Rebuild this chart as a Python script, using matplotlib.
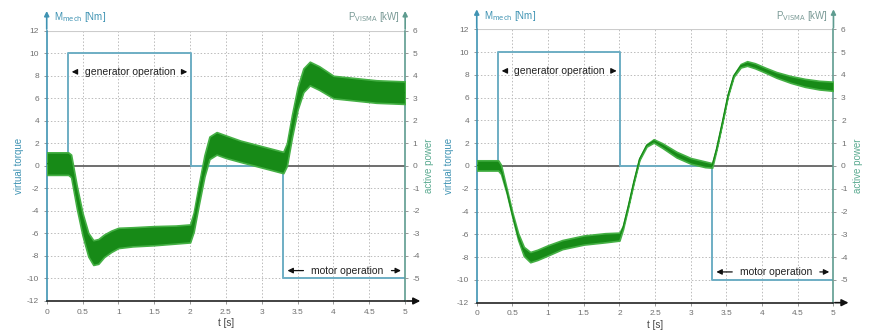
import numpy as np
import matplotlib
matplotlib.use('Agg')
import matplotlib.pyplot as plt

plt.rcParams['font.family'] = ['Liberation Sans', 'DejaVu Sans']
plt.rcParams['axes.unicode_minus'] = False

# square wave of the virtual torque setpoint (both tests)
sq_t = [0, 0.30, 0.30, 2.01, 2.01, 3.30, 3.30, 5.0]
sq_m = [0, 0, 10, 10, 0, 0, -10, -10]

# left test: measured torque band (centre and half width, Nm)
t_left = [0, 0.30, 0.34, 0.42, 0.50, 0.58, 0.65, 0.72, 0.80, 0.90, 1.00, 1.20, 1.50,
          1.80, 2.00, 2.05, 2.12, 2.20, 2.27, 2.37, 2.50, 2.70, 3.00, 3.30, 3.35, 3.42,
          3.50, 3.58, 3.67, 3.80, 4.00, 4.30, 4.60, 5.00]
m_left = [0.2, 0.2, 0.0, -2.8, -5.2, -7.0, -7.7, -7.6, -7.1, -6.7, -6.4, -6.3, -6.2,
          -6.1, -6.0, -5.0, -2.6, 0.0, 1.6, 2.0, 1.7, 1.3, 0.8, 0.3, 1.0, 3.5,
          6.0, 7.6, 8.2, 7.8, 7.0, 6.8, 6.6, 6.5]
hw_left = [1.0, 1.0, 1.0, 1.0, 1.0, 1.05, 1.1, 1.1, 1.0, 0.95, 0.9, 0.85, 0.85,
           0.8, 0.8, 0.85, 0.9, 0.95, 1.0, 1.0, 1.0, 0.95, 0.95, 0.95, 1.0, 1.0,
           1.0, 1.05, 1.05, 1.05, 1.0, 1.0, 1.0, 1.0]

# right test: measured torque band
t_right = [0, 0.30, 0.34, 0.42, 0.50, 0.58, 0.66, 0.75, 0.85, 1.00, 1.20, 1.50, 1.80,
           2.00, 2.05, 2.12, 2.20, 2.28, 2.38, 2.48, 2.60, 2.80, 3.00, 3.20, 3.30, 3.36,
           3.44, 3.52, 3.60, 3.70, 3.79, 3.90, 4.05, 4.20, 4.40, 4.60, 4.80, 5.00]
m_right = [0.05, 0.05, -0.3, -2.2, -4.3, -6.2, -7.5, -8.0, -7.8, -7.4, -6.9, -6.5, -6.3,
           -6.2, -5.4, -3.6, -1.4, 0.6, 1.8, 2.2, 1.8, 1.0, 0.45, 0.15, 0.05, 1.5,
           3.8, 6.2, 7.9, 8.8, 9.0, 8.8, 8.4, 8.0, 7.6, 7.3, 7.1, 7.0]
hw_right = [0.45, 0.45, 0.4, 0.2, 0.2, 0.3, 0.4, 0.45, 0.45, 0.45, 0.4, 0.4, 0.4,
            0.35, 0.15, 0.08, 0.08, 0.08, 0.1, 0.15, 0.2, 0.25, 0.25, 0.25, 0.2, 0.08,
            0.06, 0.06, 0.08, 0.15, 0.2, 0.22, 0.22, 0.25, 0.3, 0.35, 0.38, 0.4]

x_ticks = [0, 0.5, 1, 1.5, 2, 2.5, 3, 3.5, 4, 4.5, 5]
x_labels = ['0', '0.5', '1', '1.5', '2', '2.5', '3', '3.5', '4', '4.5', '5']
m_ticks = list(range(-12, 13, 2))
p_ticks = list(range(-5, 7))

GREEN = '#178a17'
SQ = '#6eaec4'
LCOL = '#3f93b3'
RCOL = '#5f9c90'
TXT = '#707070'


def panel(rect, t, m, hw):
    ax = fig.add_axes(rect)
    ax.set_xlim(0, 5)
    ax.set_ylim(-12, 12)
    ax.spines['top'].set_visible(False)
    ax.spines['left'].set_color(LCOL)
    ax.spines['left'].set_linewidth(1.2)
    ax.spines['right'].set_color(RCOL)
    ax.spines['right'].set_linewidth(1.2)
    ax.spines['bottom'].set_color('#222222')
    ax.spines['bottom'].set_linewidth(1.2)

    # grid
    for x in x_ticks[1:-1]:
        ax.plot([x, x], [-12, 12], color='#bbbbbb', lw=0.7, ls=(0, (1.5, 2)), zorder=0)
    for y in m_ticks[1:-1]:
        if y != 0:
            ax.plot([0, 5], [y, y], color='#bbbbbb', lw=0.7, ls=(0, (1.5, 2)), zorder=0)
    ax.plot([0, 5], [12, 12], color='#cccccc', lw=0.8, zorder=0)
    ax.plot([0, 5], [0, 0], color='#555555', lw=1.2, zorder=1)

    ax.set_xticks(x_ticks)
    ax.set_xticklabels(x_labels)
    ax.set_yticks(m_ticks)
    ax.tick_params(axis='both', labelsize=6, colors='#888888', labelcolor=TXT,
                   length=2, width=0.6)

    ax.plot(sq_t, sq_m, color=SQ, lw=1.4, zorder=2)

    lo = np.array(m) - np.array(hw)
    hi = np.array(m) + np.array(hw)
    ax.fill_between(t, lo, hi, color=GREEN, lw=1.2, edgecolor='#45b045', zorder=3)
    ax.plot(t, m, color=GREEN, lw=0.9, zorder=3)

    ax2 = ax.twinx()
    ax2.set_ylim(-6, 6)
    ax2.set_yticks(p_ticks)
    ax2.tick_params(axis='y', labelsize=6, labelcolor=TXT, colors='#888888', length=2, width=0.6)
    for s in ['top', 'left', 'bottom', 'right']:
        ax2.spines[s].set_visible(False)

    # axis arrows
    ax.annotate('', xy=(0, 14.0), xytext=(0, 11.9), annotation_clip=False,
                arrowprops=dict(arrowstyle='-|>', color=LCOL, lw=1.2, mutation_scale=7))
    ax.annotate('', xy=(5, 14.0), xytext=(5, 11.9), annotation_clip=False,
                arrowprops=dict(arrowstyle='-|>', color=RCOL, lw=1.2, mutation_scale=7))
    ax.annotate('', xy=(5.25, -12), xytext=(4.98, -12), annotation_clip=False,
                arrowprops=dict(arrowstyle='-|>', color='#111111', lw=1.2, mutation_scale=10))

    ax.text(0.1, 13.2, r'M$_{\mathrm{mech}}$ [Nm]', color=LCOL, fontsize=7,
            ha='left', va='center', clip_on=False)
    ax.text(4.93, 13.2, r'P$_{\mathrm{VISMA}}$ [kW]', color='#7a9a96', fontsize=7,
            ha='right', va='center', clip_on=False)
    ax.set_xlabel('t [s]', fontsize=7, color='#444444', labelpad=2)
    ax.set_ylabel('virtual torque', fontsize=7, color=LCOL, labelpad=2)
    ax2.set_ylabel('active power', fontsize=7, color='#5aaa90', labelpad=3)

    # operation range annotations
    ax.text(1.16, 8.35, 'generator operation', fontsize=7.5, color='#222222',
            ha='center', va='center')
    ap = dict(arrowstyle='-|>', color='#111111', lw=0.9, mutation_scale=8)
    ax.annotate('', xy=(0.31, 8.35), xytext=(0.46, 8.35), arrowprops=ap)
    ax.annotate('', xy=(2.0, 8.35), xytext=(1.86, 8.35), arrowprops=ap)
    ax.text(4.19, -9.3, 'motor operation', fontsize=7.5, color='#222222',
            ha='center', va='center')
    ax.annotate('', xy=(3.32, -9.3), xytext=(3.62, -9.3), arrowprops=ap)
    ax.annotate('', xy=(4.98, -9.3), xytext=(4.77, -9.3), arrowprops=ap)
    return ax


fig = plt.figure(figsize=(8.7, 3.32), dpi=100)
panel([0.0537, 0.0934, 0.412, 0.814], t_left, m_left, hw_left)
panel([0.548, 0.0883, 0.410, 0.8234], t_right, m_right, hw_right)
fig.savefig('out.png', dpi=100)
